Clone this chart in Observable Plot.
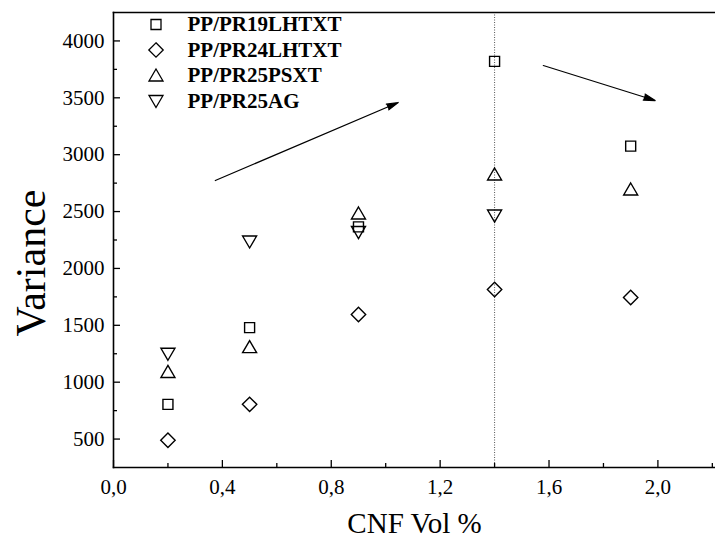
<!DOCTYPE html>
<html>
<head>
<meta charset="utf-8">
<script src="https://cdn.jsdelivr.net/npm/d3@7"></script>
<script src="https://cdn.jsdelivr.net/npm/@observablehq/plot@0.6"></script>
<style>
  html, body { margin: 0; padding: 0; background: #fff; overflow: hidden; }
  #chart svg { display: block; }
</style>
</head>
<body>
<div id="chart"></div>
<script>
// ---- data ----
const cnfVol = [0.2, 0.5, 0.9, 1.4, 1.9];
const seriesNames = ["PP/PR19LHTXT", "PP/PR24LHTXT", "PP/PR25PSXT", "PP/PR25AG"];
const pr19LHTXT = [805, 1480, 2365, 3820, 3075];
const pr24LHTXT = [490, 805, 1595, 1815, 1745];
const pr25PSXT = [1090, 1308, 2483, 2826, 2694];
const pr25AG = [1250, 2237, 2320, 2465];
const xTicks = [0, 0.4, 0.8, 1.2, 1.6, 2.0];
const xMinor = [0.2, 0.6, 1.0, 1.4, 1.8, 2.2];
const yTicks = [500, 1000, 1500, 2000, 2500, 3000, 3500, 4000];
const yMinor = [750, 1250, 1750, 2250, 2750, 3250, 3750];
const markerLine = [1.4];
const arrowX1 = [0.374, 1.579];
const arrowY1 = [2773, 3784];
const arrowX2 = [1.046, 1.99];
const arrowY2 = [3459, 3476];

// ---- symbols ----
const sqSym = {draw(c) { const s = 5; c.moveTo(-s, -s); c.lineTo(s, -s); c.lineTo(s, s); c.lineTo(-s, s); c.closePath(); }};
const diaSym = {draw(c) { const d = 7.2; c.moveTo(0, -d); c.lineTo(d, 0); c.lineTo(0, d); c.lineTo(-d, 0); c.closePath(); }};
const upSym = {draw(c) { c.moveTo(0, -6.5); c.lineTo(7, 5.5); c.lineTo(-7, 5.5); c.closePath(); }};
const downSym = {draw(c) { c.moveTo(0, 6.5); c.lineTo(7, -5.5); c.lineTo(-7, -5.5); c.closePath(); }};
const symbols = [sqSym, diaSym, upSym, downSym];

const seriesValues = [pr19LHTXT, pr24LHTXT, pr25PSXT, pr25AG];
const rows = seriesValues.map((vals) => vals.map((v, i) => ({x: cnfVol[i], y: v})));
const arrows = arrowX1.map((d, i) => ({x1: arrowX1[i], y1: arrowY1[i], x2: arrowX2[i], y2: arrowY2[i]}));

const W = 715, H = 551;
const mL = 113, mT = 12, mB = 84, mR = 0;
const innerW = W - mL - mR, innerH = H - mT - mB;
const fmtX = (d) => d.toFixed(1).replace(".", ",");
const fmtY = (d) => String(d);
const font = "'Liberation Serif', 'Times New Roman', serif";

const marks = [
  // dotted reference line
  Plot.ruleX(markerLine, {x: (d) => d, stroke: "#555", strokeWidth: 1, strokeDasharray: "1,1.5"}),
  // frame (top, left, bottom)
  Plot.frame({anchor: "top", strokeWidth: 1.6}),
  Plot.frame({anchor: "bottom", strokeWidth: 1.6}),
  Plot.frame({anchor: "left", strokeWidth: 1.6}),
  // inward ticks
  Plot.ruleX(xTicks, {x: (d) => d, insetTop: innerH - 7, strokeWidth: 1.3}),
  Plot.ruleX(xMinor, {x: (d) => d, insetTop: innerH - 4, strokeWidth: 1.3}),
  Plot.ruleY(yTicks, {y: (d) => d, insetRight: innerW - 7, strokeWidth: 1.3}),
  Plot.ruleY(yMinor, {y: (d) => d, insetRight: innerW - 4, strokeWidth: 1.3}),
  Plot.axisX({ticks: xTicks, tickSize: 0, tickPadding: 12, tickFormat: fmtX, fontSize: 21, label: null}),
  Plot.axisY({ticks: yTicks, tickSize: 0, tickPadding: 9, tickFormat: fmtY, fontSize: 21, label: null}),
  // titles
  Plot.text(["CNF Vol %"], {frameAnchor: "bottom", dy: 56, lineAnchor: "middle", textAnchor: "middle", fontSize: 29, text: (d) => d}),
  Plot.text(["Variance"], {frameAnchor: "left", dx: -82, dy: 23, rotate: -90, textAnchor: "middle", lineAnchor: "middle", fontSize: 42, text: (d) => d}),
  // arrows
  Plot.arrow(arrows, {x1: "x1", y1: "y1", x2: "x2", y2: "y2", headLength: 15, headAngle: 30, strokeWidth: 1.2, stroke: "black"})
];

rows.forEach((data, i) => {
  marks.push(Plot.dot(data, {x: "x", y: "y", symbol: symbols[i], r: 5, stroke: "black", strokeWidth: 1.4, fill: "none"}));
  // legend
  marks.push(Plot.dot([seriesNames[i]], {frameAnchor: "top-left", dx: 42.5, dy: 12 + 25.5 * i, symbol: symbols[i], r: 5, stroke: "black", strokeWidth: 1.3, fill: "none"}));
  marks.push(Plot.text([seriesNames[i]], {frameAnchor: "top-left", dx: 74, dy: 12 + 25.5 * i, text: (d) => d, textAnchor: "start", lineAnchor: "middle", fontWeight: "bold", fontSize: 21}));
});

const chart = Plot.plot({
  width: W,
  height: H,
  marginLeft: mL,
  marginRight: mR,
  marginTop: mT,
  marginBottom: mB,
  style: {fontFamily: font, color: "black", background: "white", overflow: "visible"},
  x: {domain: [0, innerW / 272.2], axis: null},
  y: {domain: [250, 4250], axis: null},
  marks
});

d3.select(chart).selectAll("g[aria-label='arrow'] path").attr("fill", "black");
document.getElementById("chart").appendChild(chart);
</script>
</body>
</html>
